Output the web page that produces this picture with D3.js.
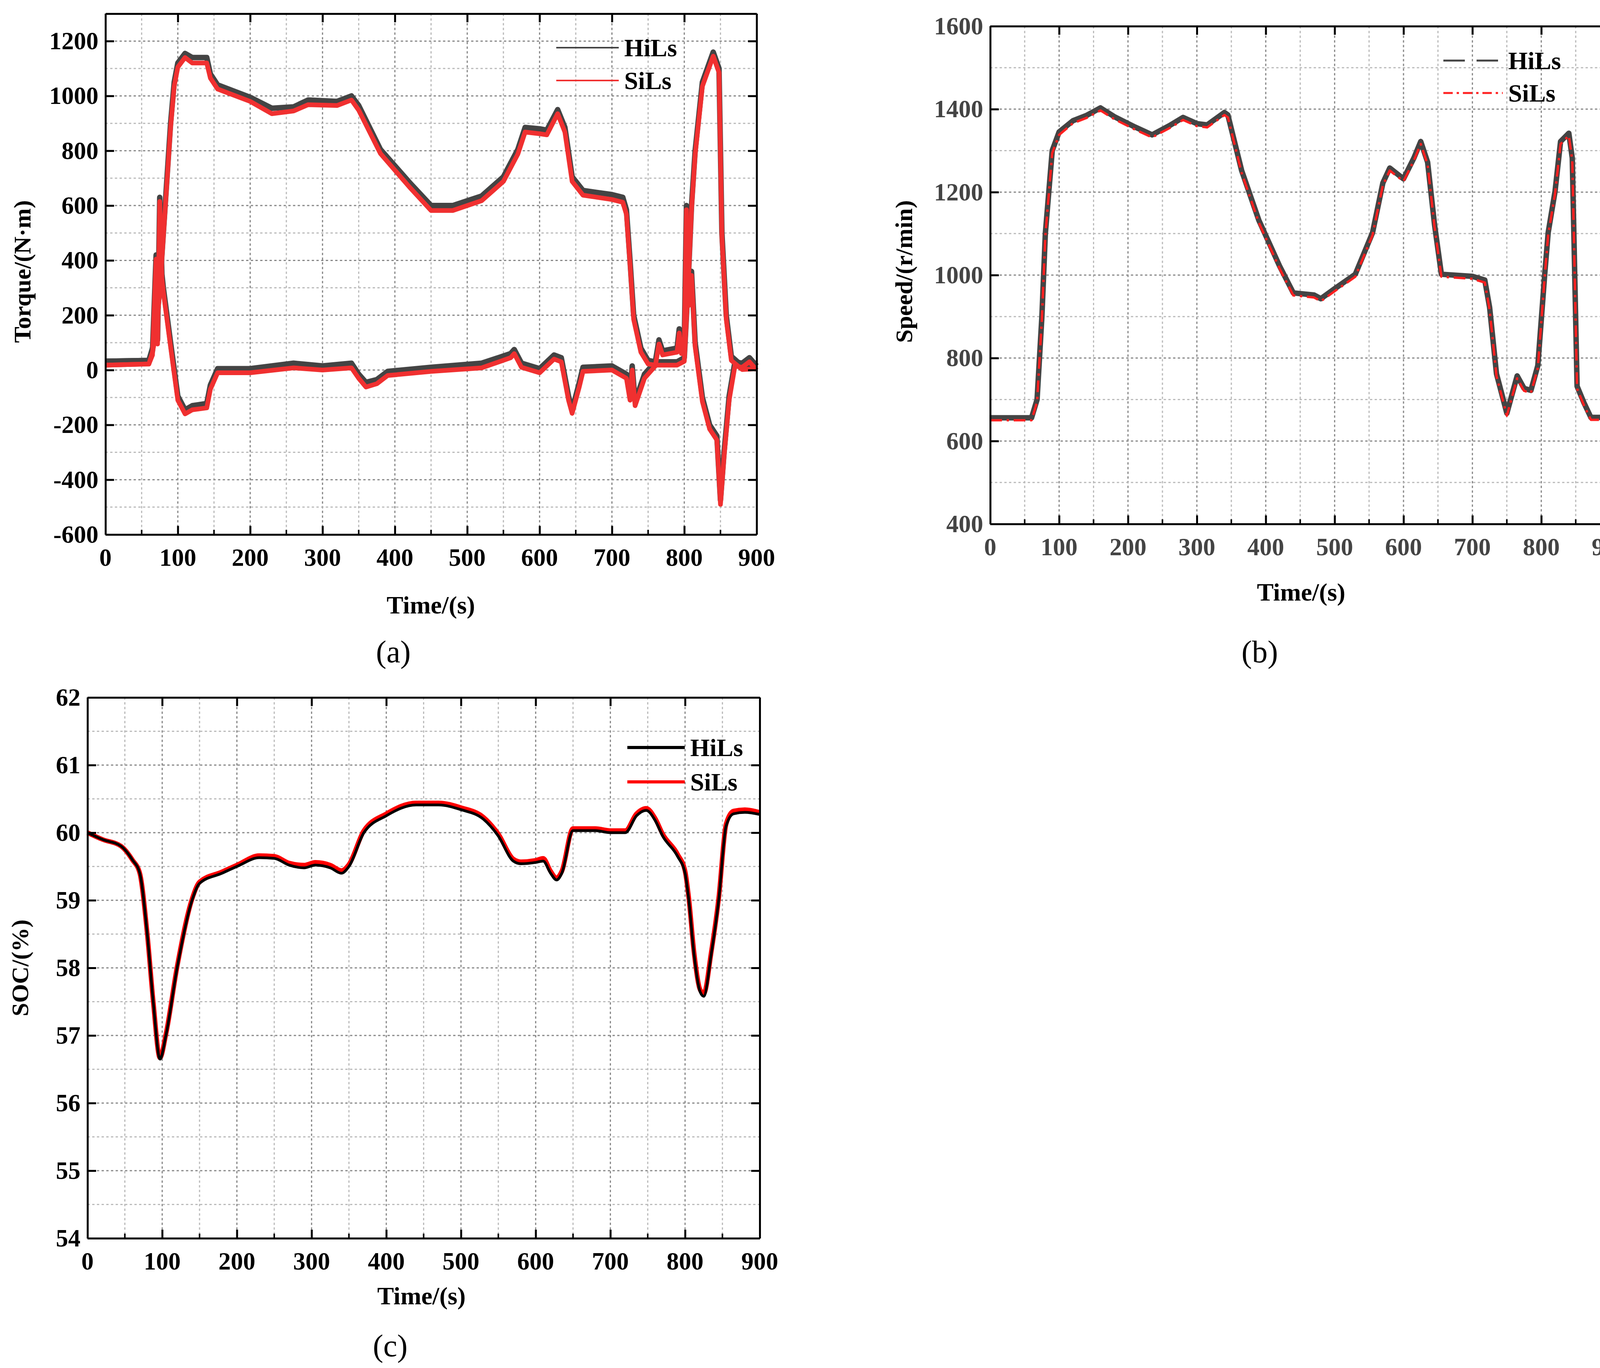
<!DOCTYPE html>
<html><head><meta charset="utf-8">
<script src="https://cdn.jsdelivr.net/npm/d3@7"></script>
<style>body{margin:0;background:#fff}svg{display:block}</style>
</head><body>
<svg id="c" width="4189" height="3501"></svg>
<script>
// ---- data ----
const torqueUpperT = [0,60,65,70,75,80,85,90,95,100,110,120,140,145,155,200,230,260,280,320,340,350,380,420,450,480,520,550,570,580,600,610,625,635,645,660,700,715,720,725,730,740,750,760,790,800,805,810,815,825,840,848,852,858,865,880,900];
const torqueUpperHiL = [32,35,80,150,300,500,700,900,1050,1120,1155,1140,1140,1080,1040,995,955,960,985,980,1000,965,805,685,600,600,635,705,805,885,880,875,950,885,705,655,640,630,585,400,200,80,35,30,30,45,300,600,800,1050,1160,1100,500,200,50,15,18];
const torqueUpperSiL = [18,22,65,135,285,485,685,885,1035,1105,1140,1120,1120,1065,1025,980,935,945,968,965,985,948,790,668,582,582,618,688,788,868,862,858,935,868,688,638,622,612,568,385,185,65,22,18,18,32,285,585,785,1035,1145,1085,485,185,35,2,5];
const torqueLowerT = [0,60,65,70,72,75,78,80,90,100,110,120,140,145,155,200,260,300,340,350,360,375,390,450,520,560,565,575,600,620,630,640,645,655,660,700,720,725,728,732,745,760,765,770,790,793,796,800,803,806,810,815,825,835,845,850,855,862,870,880,890,900];
const torqueLowerHiL = [32,35,70,420,110,630,350,300,100,-95,-145,-130,-122,-55,5,5,25,15,25,-15,-45,-35,-5,10,25,60,75,25,5,55,45,-95,-145,-45,10,15,-15,-95,15,-115,-15,30,110,70,80,150,75,100,600,250,360,100,-100,-200,-240,-475,-300,-95,30,25,45,15];
const torqueLowerSiL = [18,22,55,405,95,615,335,285,85,-110,-160,-145,-138,-70,-10,-10,8,0,8,-30,-62,-50,-20,-5,8,45,60,10,-10,40,30,-110,-158,-60,-5,0,-30,-110,0,-130,-30,15,95,55,65,135,60,85,585,235,345,85,-115,-215,-255,-490,-315,-110,15,10,30,0];

const speedT = [0,60,68,75,80,90,100,120,140,160,180,210,235,260,280,300,315,340,345,365,390,420,440,470,480,500,530,555,570,580,600,615,625,635,645,655,700,718,725,735,750,765,775,785,795,805,810,820,828,840,845,852,862,872,900];
const speedHiL = [656,656,700,900,1100,1300,1345,1372,1385,1403,1382,1357,1338,1360,1380,1365,1362,1392,1386,1252,1132,1022,957,952,943,967,1002,1102,1222,1258,1232,1282,1322,1272,1122,1002,997,988,922,762,667,757,727,722,782,1002,1102,1202,1322,1342,1282,732,692,657,657];
const speedSiL = [650,650,694,894,1094,1294,1338,1366,1379,1397,1376,1351,1332,1354,1374,1359,1356,1386,1380,1246,1126,1016,951,946,937,961,996,1096,1216,1252,1226,1276,1316,1266,1116,996,991,982,916,756,661,751,721,716,776,996,1096,1196,1316,1336,1276,726,686,651,651];

const socT = [0,20,45,60,70,80,88,97,105,120,140,150,180,200,230,250,270,290,305,325,340,350,370,400,440,470,500,530,550,570,580,600,610,620,628,635,650,680,700,720,735,748,760,770,790,800,805,812,820,825,835,845,855,865,880,900];
const socHiL = [60.0,59.9,59.8,59.6,59.4,58.5,57.5,56.65,57.0,58.0,59.0,59.25,59.4,59.5,59.63,59.62,59.52,59.48,59.52,59.48,59.4,59.5,60.0,60.25,60.41,60.41,60.34,60.2,59.95,59.58,59.54,59.56,59.58,59.4,59.3,59.4,60.03,60.03,60.0,60.0,60.25,60.33,60.18,59.95,59.65,59.4,59.0,58.2,57.65,57.58,58.2,59.0,60.1,60.28,60.3,60.27];
const socSiL = [60.0,59.9,59.8,59.6,59.4,58.5,57.5,56.67,57.02,58.02,59.02,59.27,59.42,59.52,59.66,59.65,59.55,59.52,59.56,59.52,59.44,59.53,60.03,60.28,60.44,60.44,60.37,60.23,59.98,59.61,59.57,59.59,59.62,59.43,59.33,59.43,60.06,60.06,60.03,60.03,60.28,60.36,60.21,59.98,59.68,59.43,59.03,58.23,57.68,57.62,58.23,59.03,60.13,60.32,60.34,60.3];

const xTicks = [0,100,200,300,400,500,600,700,800,900];
const torqueTicks = [-600,-400,-200,0,200,400,600,800,1000,1200];
const speedTicks = [400,600,800,1000,1200,1400,1600];
const socTicks = [54,55,56,57,58,59,60,61,62];
const seriesNames = ["HiLs","SiLs"];

// ---- drawing ----
const svg = d3.select("#c");
const FONT = "'Liberation Serif','Times New Roman',serif";

function panel(o){
  const g = svg.append("g");
  const x = d3.scaleLinear().domain([0,900]).range([o.L,o.R]);
  const y = d3.scaleLinear().domain(o.yd).range([o.B,o.T]);
  const gx = d3.range(0,901,50), gy = d3.range(o.yd[0], o.yd[1]+1e-9, o.gstep);
  g.selectAll(".gx").data(gx).enter().append("line")
    .attr("x1",d=>x(d)).attr("x2",d=>x(d)).attr("y1",o.T).attr("y2",o.B)
    .attr("stroke",d=>d%100===0?"#888":"#bbb").attr("stroke-width",3).attr("stroke-dasharray","6,6");
  g.selectAll(".gy").data(gy).enter().append("line")
    .attr("y1",d=>y(d)).attr("y2",d=>y(d)).attr("x1",o.L).attr("x2",o.R)
    .attr("stroke",(d,i)=>i%2===0?"#888":"#bbb").attr("stroke-width",3).attr("stroke-dasharray","6,6");
  o.series.forEach(s=>{
    const ln = d3.line().x((d,i)=>x(s.t[i])).y(d=>y(d));
    if(o.curve) ln.curve(o.curve);
    g.append("path").datum(s.v).attr("d",ln).attr("fill","none")
      .attr("stroke",s.c).attr("stroke-width",s.w).attr("stroke-dasharray",s.dash||null)
      .attr("stroke-linejoin","round");
  });
  const ax = (axis, tr, ticks) => {
    const a = g.append("g").attr("transform",tr).call(axis.tickValues(ticks));
    a.selectAll("text").remove(); a.select(".domain").attr("stroke","#000").attr("stroke-width",5);
    a.selectAll("line").attr("stroke","#000").attr("stroke-width",5);
  };
  ax(d3.axisBottom(x).tickSize(-22).tickSizeOuter(0),`translate(0,${o.B})`,xTicks);
  ax(d3.axisTop(x).tickSize(-22).tickSizeOuter(0),`translate(0,${o.T})`,xTicks);
  ax(d3.axisLeft(y).tickSize(-22).tickSizeOuter(0),`translate(${o.L},0)`,o.yt);
  ax(d3.axisRight(y).tickSize(-22).tickSizeOuter(0),`translate(${o.R},0)`,o.yt);
  g.selectAll(".mx").data(d3.range(50,900,100)).enter().append("line")
    .attr("x1",d=>x(d)).attr("x2",d=>x(d)).attr("y1",o.B).attr("y2",o.B-12).attr("stroke","#000").attr("stroke-width",4);
  g.selectAll(".xl").data(xTicks).enter().append("text").attr("x",d=>x(d)).attr("y",o.B+80)
    .attr("text-anchor","middle").attr("font-family",FONT).attr("font-weight","bold").attr("font-size",63).attr("fill",o.tc).text(d=>d);
  g.selectAll(".yl").data(o.yt).enter().append("text").attr("x",o.L-18).attr("y",d=>y(d)+21)
    .attr("text-anchor","end").attr("font-family",FONT).attr("font-weight","bold").attr("font-size",63).attr("fill",o.tc).text(d=>d);
  g.append("text").attr("x",o.xtx).attr("y",o.xty).attr("text-anchor","middle").attr("font-family",FONT)
    .attr("font-weight","bold").attr("font-size",64).text("Time/(s)");
  g.append("text").attr("transform",`translate(${o.ytx},${o.yty}) rotate(-90)`).attr("text-anchor","middle")
    .attr("font-family",FONT).attr("font-weight","bold").attr("font-size",62).text(o.ytitle);
  g.append("text").attr("x",o.lx).attr("y",o.ly).attr("text-anchor","middle").attr("font-family",FONT)
    .attr("font-size",80).text(o.label);
  o.leg.forEach((l,i)=>{
    g.append("line").attr("x1",o.legX).attr("x2",o.legX+o.legW).attr("y1",o.legY[i]).attr("y2",o.legY[i])
      .attr("stroke",l.c).attr("stroke-width",l.w).attr("stroke-dasharray",l.dash||null);
    g.append("text").attr("x",o.legX+o.legW+14).attr("y",o.legY[i]+22).attr("font-family",FONT)
      .attr("font-weight","bold").attr("font-size",64).text(seriesNames[i]);
  });
}

panel({L:270,R:1937,T:35,B:1368,yd:[-600,1300],gstep:100,yt:torqueTicks,tc:"#000",
  series:[
    {t:torqueUpperT,v:torqueUpperHiL,c:"#444",w:14},
    {t:torqueLowerT,v:torqueLowerHiL,c:"#444",w:14},
    {t:torqueUpperT,v:torqueUpperSiL,c:"#f03030",w:12},
    {t:torqueLowerT,v:torqueLowerSiL,c:"#f03030",w:12}],
  xtx:1103,xty:1570,ytx:78,yty:695,ytitle:"Torque/(N·m)",lx:1007,ly:1695,label:"(a)",
  legX:1424,legW:160,legY:[122,206],leg:[{c:"#444",w:4},{c:"#f03030",w:4}]});

panel({L:2535,R:4122,T:67,B:1341,yd:[400,1600],gstep:100,yt:speedTicks,tc:"#444",
  series:[
    {t:speedT,v:speedHiL,c:"#444",w:14},
    {t:speedT,v:speedSiL,c:"#ff2020",w:6,dash:"30,12,6,12"}],
  xtx:3331,xty:1537,ytx:2335,yty:695,ytitle:"Speed/(r/min)",lx:3225,ly:1695,label:"(b)",
  legX:3695,legW:152,legY:[155,238],leg:[{c:"#444",w:5,dash:"55,30"},{c:"#ff2020",w:5,dash:"24,10,6,10"}]});

panel({L:224,R:1945,T:1785,B:3169,yd:[54,62],gstep:0.5,yt:socTicks,tc:"#000",curve:d3.curveMonotoneX,
  series:[
    {t:socT,v:socSiL,c:"#ff0000",w:12},
    {t:socT,v:socHiL,c:"#000",w:7}],
  xtx:1079,xty:3338,ytx:72,yty:2477,ytitle:"SOC/(%)",lx:999,ly:3471,label:"(c)",
  legX:1606,legW:147,legY:[1913,2001],leg:[{c:"#000",w:8},{c:"#ff0000",w:8}]});
</script>
</body></html>
